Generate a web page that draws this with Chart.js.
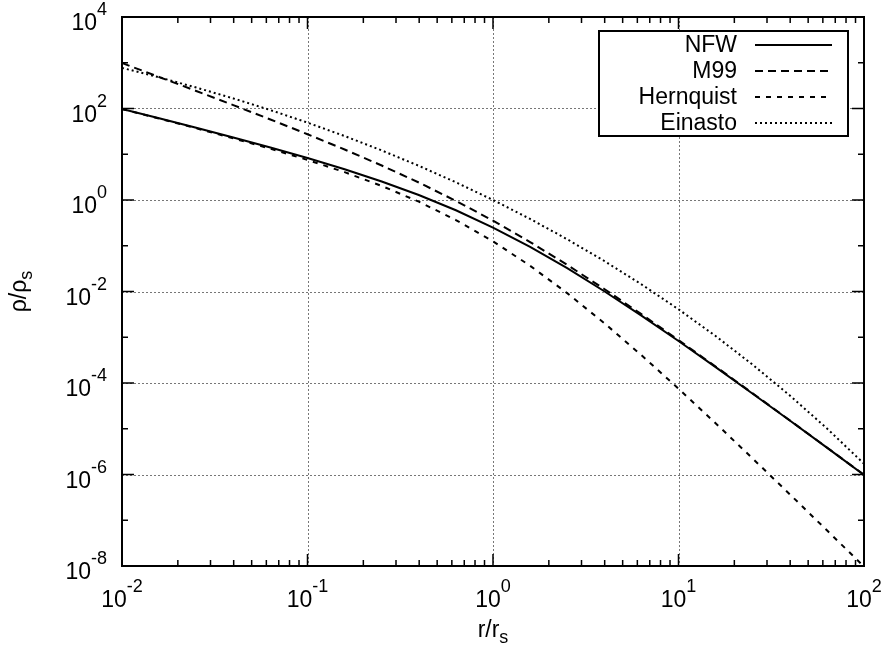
<!DOCTYPE html>
<html>
<head>
<meta charset="utf-8">
<script src="https://cdn.jsdelivr.net/npm/chart.js@4.4.0/dist/chart.umd.min.js"></script>
<style>
html, body { margin:0; padding:0; background:#fff; }
</style>
</head>
<body>
<canvas id="myChart" width="886" height="650"></canvas>
<script>
// r/rs sample points
var radius = [0.01, 0.01585, 0.02512, 0.03981, 0.0631, 0.1, 0.1585, 0.2512, 0.3981, 0.631,
              1, 1.585, 2.512, 3.981, 6.31, 10, 15.85, 25.12, 39.81, 63.1, 100];

var nfw = [98.0, 61.1, 37.9, 23.2, 14.0, 8.26, 4.70, 2.54, 1.285, 0.596,
           0.25, 0.0944, 0.0323, 0.01012, 2.97e-3, 8.26e-4, 2.22e-4, 5.83e-5, 1.51e-5, 3.86e-6, 9.8e-7];
var m99 = [985, 489, 242, 118.7, 57.6, 27.4, 12.7, 5.68, 2.41, 0.958,
           0.354, 0.1206, 0.0382, 0.01133, 3.19e-3, 8.67e-4, 2.29e-4, 5.95e-5, 1.527e-5, 3.89e-6, 9.85e-7];
var hernquist = [97.0, 60.2, 36.97, 22.3, 13.2, 7.51, 4.06, 2.03, 0.919, 0.365,
                 0.125, 0.0365, 9.2e-3, 2.03e-3, 4.06e-4, 7.51e-5, 1.32e-5, 2.23e-6, 3.7e-7, 6.02e-8, 9.7e-9];
var einasto = [773, 479.6, 287.4, 166.0, 92.2, 49.1, 25.0, 12.13, 5.59, 2.435,
               1, 0.3853, 0.1387, 0.0464, 0.01436, 4.08e-3, 1.062e-3, 2.508e-4, 5.34e-5, 1.018e-5, 1.72e-6];

var seriesNames = ['NFW', 'M99', 'Hernquist', 'Einasto'];
var xTickExps = [-2, -1, 0, 1, 2];
var yTickExps = [4, 2, 0, -2, -4, -6, -8];
var yMinorExps = [3, 1, -1, -3, -5, -7];

var FONT = '"Liberation Sans", Arial, Helvetica, sans-serif';
var dashes = [[], [8, 5], [5, 6], [2, 3]];

function pts(vals) {
  return radius.map(function(r, i){ return {x: r, y: vals[i]}; });
}

function drawPow(ctx, exp, x, y, align) {
  ctx.font = '23px ' + FONT;
  var wb = ctx.measureText('10').width;
  ctx.font = '18px ' + FONT;
  var ws = ctx.measureText(String(exp)).width;
  var x0 = align === 'right' ? x - wb - ws : x - (wb + ws) / 2;
  ctx.textAlign = 'left';
  ctx.textBaseline = 'alphabetic';
  ctx.font = '23px ' + FONT;
  ctx.fillText('10', x0, y);
  ctx.font = '18px ' + FONT;
  ctx.fillText(String(exp), x0 + wb, y - 15);
}

var frame = {
  id: 'frame',
  beforeDatasetsDraw: function(chart) {
    var ctx = chart.ctx, a = chart.chartArea;
    var xs = chart.scales.x, ys = chart.scales.y;
    ctx.save();
    ctx.strokeStyle = '#777';
    ctx.lineWidth = 1;
    ctx.setLineDash([2, 2]);
    xTickExps.slice(1, -1).forEach(function(e){
      var px = Math.round(xs.getPixelForValue(Math.pow(10, e))) + 0.5;
      ctx.beginPath(); ctx.moveTo(px, a.top); ctx.lineTo(px, a.bottom); ctx.stroke();
    });
    yTickExps.slice(1, -1).forEach(function(e){
      var py = Math.round(ys.getPixelForValue(Math.pow(10, e))) + 0.5;
      ctx.beginPath(); ctx.moveTo(a.left, py); ctx.lineTo(a.right, py); ctx.stroke();
    });
    ctx.restore();
  },
  afterDatasetsDraw: function(chart) {
    var ctx = chart.ctx, a = chart.chartArea;
    var xs = chart.scales.x, ys = chart.scales.y;
    ctx.save();
    ctx.setLineDash([]);
    ctx.strokeStyle = '#000';
    ctx.lineWidth = 1.5;
    // x ticks (bottom + mirrored top)
    for (var e = -2; e <= 2; e++) {
      for (var m = 1; m <= 9; m++) {
        var v = m * Math.pow(10, e);
        if (v > 100.0001) break;
        var px = xs.getPixelForValue(v);
        var len = m === 1 ? 12 : 6;
        ctx.beginPath();
        ctx.moveTo(px, a.bottom); ctx.lineTo(px, a.bottom - len);
        ctx.moveTo(px, a.top); ctx.lineTo(px, a.top + len);
        ctx.stroke();
      }
    }
    // y ticks (left + mirrored right)
    yTickExps.concat(yMinorExps).forEach(function(e){
      var py = ys.getPixelForValue(Math.pow(10, e));
      var len = (e % 2 === 0) ? 12 : 6;
      ctx.beginPath();
      ctx.moveTo(a.left, py); ctx.lineTo(a.left + len, py);
      ctx.moveTo(a.right, py); ctx.lineTo(a.right - len, py);
      ctx.stroke();
    });
    // border box
    ctx.lineWidth = 2;
    ctx.strokeRect(a.left, a.top, a.right - a.left, a.bottom - a.top);
    ctx.restore();
  },
  afterDraw: function(chart) {
    var ctx = chart.ctx, a = chart.chartArea;
    var xs = chart.scales.x, ys = chart.scales.y;
    ctx.save();
    ctx.fillStyle = '#000';
    xTickExps.forEach(function(e){
      drawPow(ctx, e, xs.getPixelForValue(Math.pow(10, e)), a.bottom + 41, 'center');
    });
    yTickExps.forEach(function(e){
      drawPow(ctx, e, a.left - 15, ys.getPixelForValue(Math.pow(10, e)) + 13, 'right');
    });

    // axis titles
    ctx.textBaseline = 'alphabetic';
    ctx.textAlign = 'left';
    ctx.font = '23px ' + FONT;
    var w1 = ctx.measureText('r/r').width;
    ctx.font = '18px ' + FONT;
    var w2 = ctx.measureText('s').width;
    var cx = (a.left + a.right) / 2;
    ctx.font = '23px ' + FONT;
    ctx.fillText('r/r', cx - (w1 + w2) / 2, 637);
    ctx.font = '18px ' + FONT;
    ctx.fillText('s', cx - (w1 + w2) / 2 + w1, 643);

    ctx.save();
    ctx.translate(26, (a.top + a.bottom) / 2);
    ctx.rotate(-Math.PI / 2);
    ctx.font = '23px ' + FONT;
    var w3 = ctx.measureText('ρ/ρ').width;
    ctx.font = '18px ' + FONT;
    var w4 = ctx.measureText('s').width;
    ctx.font = '23px ' + FONT;
    ctx.fillText('ρ/ρ', -(w3 + w4) / 2, 0);
    ctx.font = '18px ' + FONT;
    ctx.fillText('s', -(w3 + w4) / 2 + w3, 6);
    ctx.restore();

    // legend
    var lx = 599, ly = 31, lw = 249, lh = 105;
    ctx.fillStyle = '#fff';
    ctx.fillRect(lx, ly, lw, lh);
    ctx.strokeStyle = '#000';
    ctx.lineWidth = 2;
    ctx.setLineDash([]);
    ctx.strokeRect(lx, ly, lw, lh);
    ctx.fillStyle = '#000';
    ctx.font = '23px ' + FONT;
    ctx.textAlign = 'right';
    ctx.textBaseline = 'middle';
    seriesNames.forEach(function(name, i){
      var yy = 45 + i * 26;
      ctx.fillText(name, 737, yy + 1);
      ctx.setLineDash(dashes[i]);
      ctx.lineWidth = 2;
      ctx.beginPath(); ctx.moveTo(755, yy); ctx.lineTo(832, yy); ctx.stroke();
    });
    ctx.restore();
  }
};

var ctx = document.getElementById('myChart');
var chart = new Chart(ctx, {
  type: 'line',
  data: {
    datasets: [
      {label: seriesNames[0], data: pts(nfw), borderDash: dashes[0]},
      {label: seriesNames[1], data: pts(m99), borderDash: dashes[1]},
      {label: seriesNames[2], data: pts(hernquist), borderDash: dashes[2]},
      {label: seriesNames[3], data: pts(einasto), borderDash: dashes[3]}
    ].map(function(d){
      d.borderColor = '#000';
      d.borderWidth = 2;
      d.pointRadius = 0;
      d.fill = false;
      d.tension = 0;
      return d;
    })
  },
  options: {
    responsive: false,
    animation: false,
    layout: {padding: {left: 0, right: 22, top: 17, bottom: 0}},
    plugins: {legend: {display: false}, tooltip: {enabled: false}},
    scales: {
      x: {
        type: 'logarithmic', min: 0.01, max: 100,
        grid: {display: false}, border: {display: false}, ticks: {display: false},
        afterFit: function(s){ s.height = 84; }
      },
      y: {
        type: 'logarithmic', min: 1e-8, max: 1e4,
        grid: {display: false}, border: {display: false}, ticks: {display: false},
        afterFit: function(s){ s.width = 122; }
      }
    }
  },
  plugins: [frame]
});
</script>
</body>
</html>
